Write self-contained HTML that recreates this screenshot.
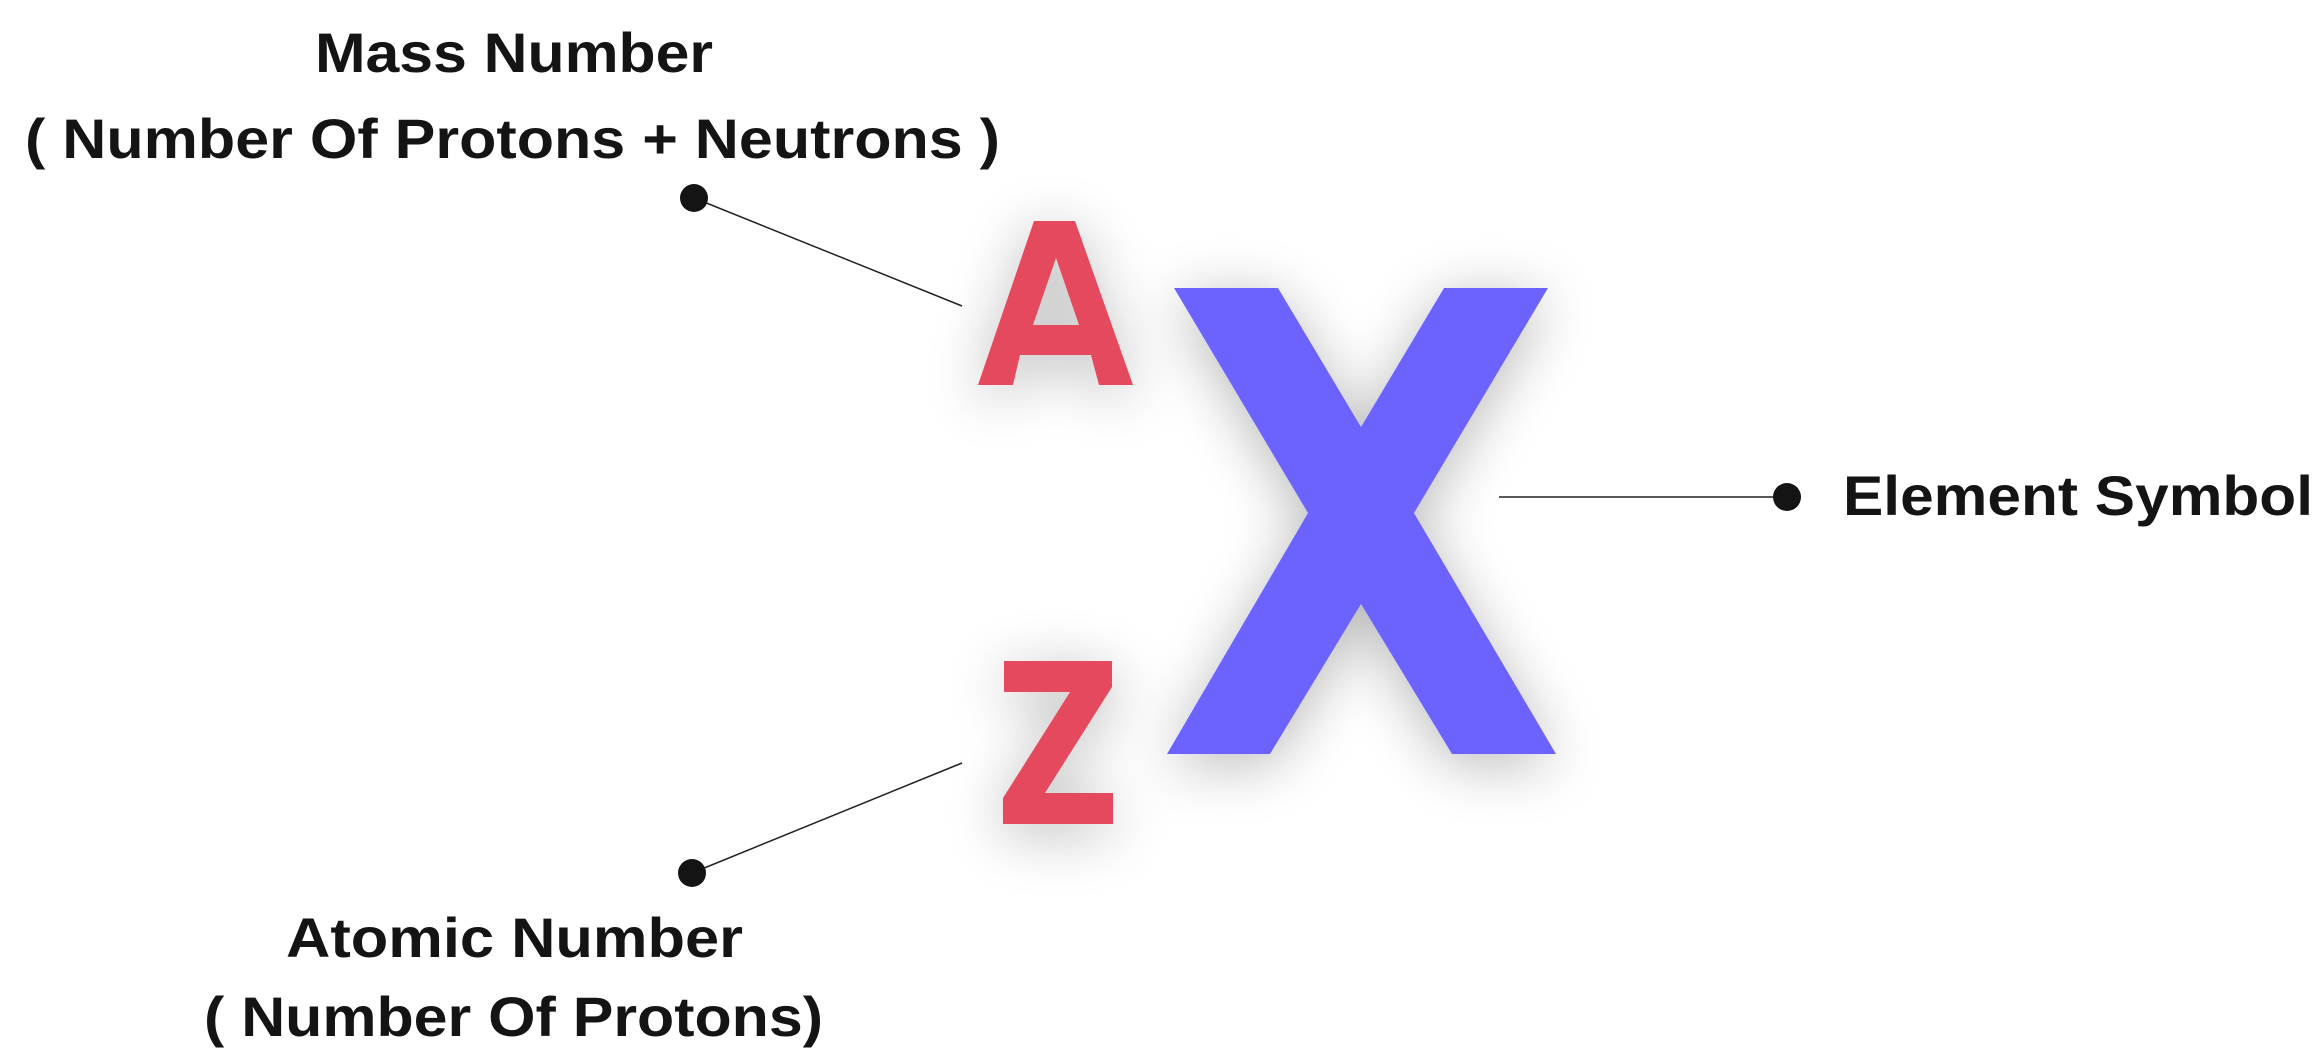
<!DOCTYPE html>
<html><head><meta charset="utf-8"><style>
html,body{margin:0;padding:0;background:#fff;}
svg{display:block;}
text{font-family:"Liberation Sans",sans-serif;font-weight:bold;fill:#141414;}
</style></head><body>
<svg width="2320" height="1058" viewBox="0 0 2320 1058" xmlns="http://www.w3.org/2000/svg">
<defs>
<filter id="sh" x="-40%" y="-40%" width="180%" height="180%">
<feGaussianBlur in="SourceAlpha" stdDeviation="30"/>
<feOffset dx="0" dy="10" result="b"/>
<feComponentTransfer><feFuncA type="linear" slope="0.28"/></feComponentTransfer>
<feMerge><feMergeNode/><feMergeNode in="SourceGraphic"/></feMerge>
</filter>
</defs>
<text x="315" y="72" font-size="56" textLength="398" lengthAdjust="spacingAndGlyphs">Mass Number</text>
<text x="25" y="158" font-size="56" textLength="975" lengthAdjust="spacingAndGlyphs">( Number Of Protons + Neutrons )</text>
<text x="1843" y="515" font-size="56" textLength="470" lengthAdjust="spacingAndGlyphs">Element Symbol</text>
<text x="286" y="957" font-size="56" textLength="457" lengthAdjust="spacingAndGlyphs">Atomic Number</text>
<text x="204" y="1036" font-size="56" textLength="619" lengthAdjust="spacingAndGlyphs">( Number Of Protons)</text>

<line x1="694" y1="198" x2="962" y2="306" stroke="#222" stroke-width="1.5"/>
<line x1="692" y1="873" x2="962" y2="763" stroke="#222" stroke-width="1.5"/>
<line x1="1499" y1="497" x2="1787" y2="497" stroke="#222" stroke-width="1.5"/>
<circle cx="694" cy="198" r="14" fill="#141414"/>
<circle cx="692" cy="873" r="14" fill="#141414"/>
<circle cx="1787" cy="497" r="14" fill="#141414"/>

<g filter="url(#sh)">
<path fill="#E5485D" fill-rule="evenodd" d="M1034,221 L1075,221 L1133,385 L1099,385 L1091,355 L1020,355 L1013,385 L978,385 Z M1056,258 L1079,325 L1033,325 Z"/>
<path fill="#6C63FF" d="M1174,288 L1278,288 L1361,427 L1444,288 L1548,288 L1414,513 L1556,754 L1452,754 L1361,604 L1270,754 L1167,754 L1308,513 Z"/>
<path fill="#E5485D" d="M1004,661 L1112,661 L1112,687 L1045,793 L1113,793 L1113,824 L1003,824 L1003,798 L1070,692 L1004,692 Z"/>
</g>
</svg>
</body></html>
